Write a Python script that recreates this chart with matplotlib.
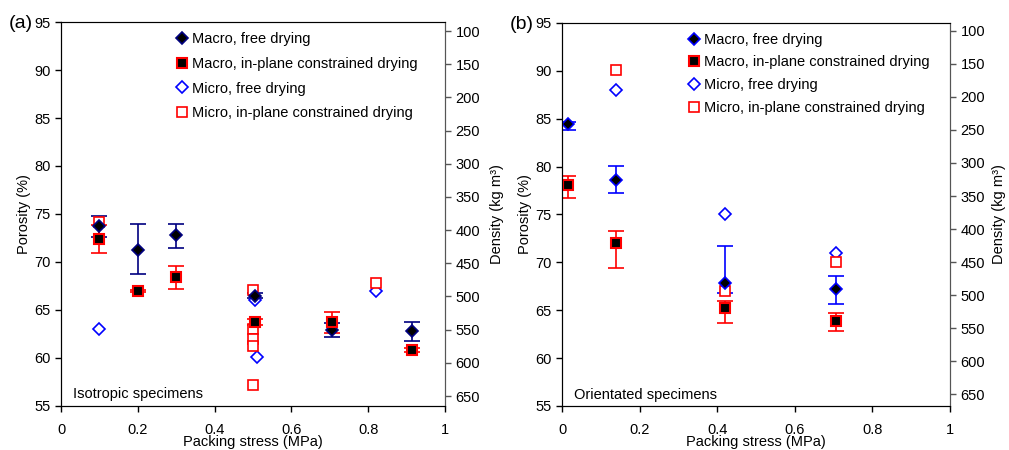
import numpy as np
import matplotlib
matplotlib.use('Agg')
import matplotlib.pyplot as plt

plt.rcParams['font.family'] = ['Liberation Sans', 'DejaVu Sans']
plt.rcParams['font.size'] = 10.5

# ---- panel (a) isotropic specimens ----
a_mf_x = [0.1, 0.2, 0.3, 0.505, 0.707, 0.913]
a_mf_y = [73.7, 71.2, 72.8, 66.5, 62.9, 62.85]
a_mf_lo = [1.1, 2.45, 1.35, 0.3, 0.7, 1.05]
a_mf_hi = [1.1, 2.8, 1.2, 0.3, 0.7, 0.85]

a_mc_x = [0.1, 0.2, 0.3, 0.505, 0.707, 0.913]
a_mc_y = [72.4, 66.95, 68.4, 63.75, 63.75, 60.8]
a_mc_lo = [1.5, 0.1, 1.25, 0.3, 1.1, 0.2]
a_mc_hi = [1.5, 0.1, 1.2, 0.3, 1.05, 0.2]

a_uf_x = [0.1, 0.505, 0.51, 0.82]
a_uf_y = [63.0, 66.0, 60.1, 67.0]

a_uc_x = [0.1, 0.5, 0.5, 0.5, 0.5, 0.5, 0.82]
a_uc_y = [74.2, 67.1, 63.05, 62.0, 61.2, 57.2, 67.8]

# ---- panel (b) orientated specimens ----
b_mf_x = [0.015, 0.14, 0.42, 0.706]
b_mf_y = [84.4, 78.6, 67.85, 67.25]
b_mf_lo = [0.55, 1.4, 1.1, 1.55]
b_mf_hi = [0.3, 1.45, 3.85, 1.35]

b_mc_x = [0.015, 0.14, 0.42, 0.706]
b_mc_y = [78.1, 72.07, 65.2, 63.9]
b_mc_lo = [1.35, 2.65, 1.55, 1.1]
b_mc_hi = [0.9, 1.25, 0.75, 0.8]

b_uf_x = [0.14, 0.42, 0.706]
b_uf_y = [88.0, 75.0, 71.0]

b_uc_x = [0.138, 0.42, 0.706]
b_uc_y = [90.05, 67.0, 70.05]

labels = ['Macro, free drying', 'Macro, in-plane constrained drying',
          'Micro, free drying', 'Micro, in-plane constrained drying']
xticks = [0, 0.2, 0.4, 0.6, 0.8, 1]
xticklabels = ['0', '0.2', '0.4', '0.6', '0.8', '1']
yticks = [55, 60, 65, 70, 75, 80, 85, 90, 95]
dticks = [100, 150, 200, 250, 300, 350, 400, 450, 500, 550, 600, 650]

fig = plt.figure(figsize=(10.09, 4.5), dpi=100)


def panel(rect, mf, mc, uf, uc, freecol, dlim, note, tag, legx, legsp, dpad):
    ax = fig.add_axes(rect)
    ax.errorbar(mf[0], mf[1], yerr=[mf[2], mf[3]], fmt='none', ecolor=freecol,
                elinewidth=1.2, capsize=6, capthick=1.2, zorder=2)
    ax.errorbar(mc[0], mc[1], yerr=[mc[2], mc[3]], fmt='none', ecolor='#ff0000',
                elinewidth=1.2, capsize=6, capthick=1.2, zorder=2)
    ax.plot(mf[0], mf[1], 'D', ms=6.5, mfc='black', mec=freecol, mew=1.2,
            ls='none', label=labels[0], zorder=4)
    ax.plot(mc[0], mc[1], 's', ms=7, mfc='black', mec='#ff0000', mew=1.5,
            ls='none', label=labels[1], zorder=4)
    ax.plot(uf[0], uf[1], 'D', ms=6, mfc='white', mec='#0000ff', mew=1.2,
            ls='none', label=labels[2], zorder=3)
    ax.plot(uc[0], uc[1], 's', ms=7, mfc='white', mec='#ff0000', mew=1.2,
            ls='none', label=labels[3], zorder=3)
    ax.set_xlim(0, 1)
    ax.set_ylim(55, 95)
    ax.set_xticks(xticks)
    ax.set_xticklabels(xticklabels)
    ax.set_yticks(yticks)
    ax.tick_params(direction='out', length=4, width=1, labelsize=10.5)
    ax.tick_params(axis='x', pad=8)
    for s in ['top', 'right']:
        ax.spines[s].set_color('#555555')
    ax.set_xlabel('Packing stress (MPa)', fontsize=10.5, labelpad=-1)
    ax.set_ylabel('Porosity (%)', fontsize=10.5, labelpad=2)
    ax.text(0.03, 0.03, note, transform=ax.transAxes, fontsize=10.5,
            va='center', ha='left')
    ax.legend(loc='upper left', bbox_to_anchor=(legx, 0.99), frameon=False,
              handlelength=0.8, handletextpad=0.3, labelspacing=legsp,
              borderaxespad=0, fontsize=10.5)
    ax2 = ax.twinx()
    ax2.set_ylim(dlim)
    ax2.set_yticks(dticks)
    ax2.tick_params(direction='out', length=4, width=1, colors='#555555',
                    labelcolor='black', labelsize=10.5)
    ax2.spines['right'].set_color('#555555')
    ax2.set_ylabel('Density (kg m³)', fontsize=10.5, labelpad=dpad)
    fig.text(rect[0] - 0.052, rect[1] + rect[3] - 0.003, tag, fontsize=14,
             ha='left', va='center')
    return ax


panel([0.0605, 0.0978, 0.3805, 0.8533],
      (a_mf_x, a_mf_y, a_mf_lo, a_mf_hi), (a_mc_x, a_mc_y, a_mc_lo, a_mc_hi),
      (a_uf_x, a_uf_y), (a_uc_x, a_uc_y), '#000080', (665, 86.4),
      'Isotropic specimens', '(a)', 0.285, 0.75, 7)
panel([0.557, 0.0978, 0.3845, 0.8511],
      (b_mf_x, b_mf_y, b_mf_lo, b_mf_hi), (b_mc_x, b_mc_y, b_mc_lo, b_mc_hi),
      (b_uf_x, b_uf_y), (b_uc_x, b_uc_y), '#0000ff', (668, 88),
      'Orientated specimens', '(b)', 0.31, 0.6, 5)

fig.savefig('out.png', dpi=100)
